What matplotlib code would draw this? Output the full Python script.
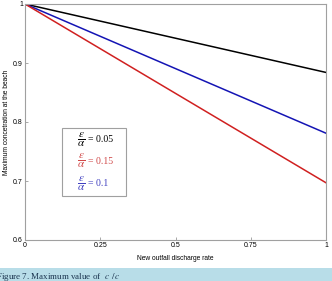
import numpy as np
import matplotlib.pyplot as plt
from matplotlib.patches import Rectangle

# data (end points of the straight lines)
rate = [0, 1]
c_005 = [1.0, 0.884]
c_01 = [1.0, 0.781]
c_015 = [1.0, 0.697]

xticks = [0, 0.25, 0.5, 0.75, 1]
xticklabels = ["0", "0.25", "0.5", "0.75", "1"]
yticks = [0.6, 0.7, 0.8, 0.9, 1.0]
yticklabels = ["0.6", "0.7", "0.8", "0.9", "1"]

legend_values = ["= 0.05", "= 0.15", "= 0.1"]
legend_colors = ["black", "#d04848", "#4040c0"]

plt.rcParams['font.family'] = ['Liberation Sans', 'DejaVu Sans']
plt.rcParams['mathtext.fontset'] = 'stix'

fig = plt.figure(figsize=(3.32, 2.81), dpi=100)
ax = fig.add_axes([25/332, 1 - 240/281, 301/332, 236/281])

ax.plot(rate, c_005, color="black", lw=1.1)
ax.plot(rate, c_01, color="#1414b4", lw=1.1)
ax.plot(rate, c_015, color="#d02020", lw=1.1)

ax.set_xlim(0, 1)
ax.set_ylim(0.6, 1)
ax.set_xticks(xticks)
ax.set_xticklabels(xticklabels)
ax.set_yticks(yticks)
ax.set_yticklabels(yticklabels)
ax.tick_params(direction="in", length=2.5, width=0.6, color="#999999",
               labelsize=5, pad=1.5)
for s in ax.spines.values():
    s.set_color("#a0a0a0")
    s.set_linewidth(0.8)

ax.set_xlabel("New outfall discharge rate", fontsize=4.8, labelpad=4)
ax.set_ylabel("Maximum concetration at the beach", fontsize=4.8, labelpad=2)

# text-only legend box
box = Rectangle((62/332, 1 - 196/281), 64/332, 68/281, transform=fig.transFigure,
                facecolor="white", edgecolor="#a0a0a0", lw=0.8)
fig.patches.append(box)
for val, col, yp in zip(legend_values, legend_colors, [140, 161, 184]):
    fig.text(81/332, 1 - yp/281, r"$\frac{\varepsilon}{\alpha}$", color=col,
             fontsize=11.5, va="center", ha="center")
    fig.text(88/332, 1 - yp/281, val, color=col, fontsize=7, va="center",
             family="Liberation Serif")

# caption strip
strip = Rectangle((0, 0), 1, 13/281, transform=fig.transFigure,
                  facecolor="#b8dde8", edgecolor="none")
fig.patches.append(strip)
fig.text(-0.012, 2/281, r"Figure 7. Maximum value of  $c_{\ \ }/c_{\ \ }$",
         fontsize=6.5, color="#1c3550", va="baseline", family="Liberation Serif")

fig.savefig("out.png", dpi=100)
